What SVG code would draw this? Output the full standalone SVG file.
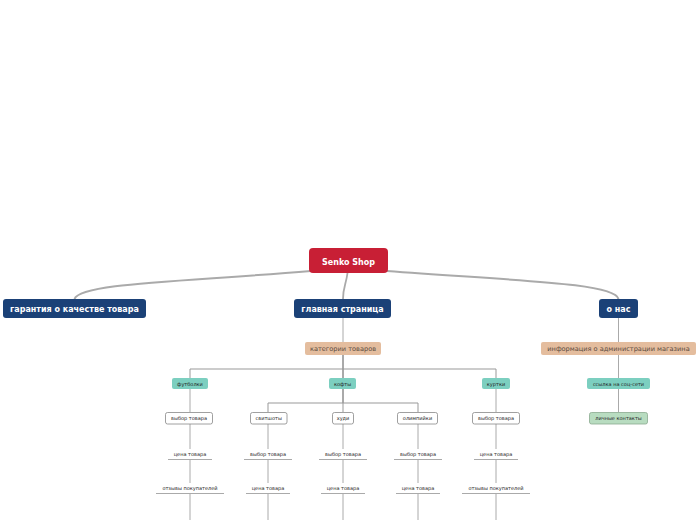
<svg xmlns="http://www.w3.org/2000/svg" width="696" height="520" viewBox="0 0 696 520">
<style>
text{font-family:"DejaVu Sans","Noto Sans",sans-serif;text-anchor:middle}
.t1{font-size:8px;font-weight:bold;fill:#fff}
.b1{fill:#1b4177}
.t2{font-size:6.6px;fill:#5a4a40}
.b2{fill:#e4bd9e}
.b3{fill:#7ccfc0}
.t3{font-size:5px;fill:#222}
.b4{fill:#fff;stroke:#888;stroke-width:0.8}
.b5{fill:#b8dcc0;stroke:#8aaa8f;stroke-width:0.8}
.ul{stroke:#aaa;stroke-width:1}
.c{stroke:#aaa;stroke-width:1;fill:none}
.cd{stroke:#555;stroke-width:1;fill:none}
.ch{stroke:#999;stroke-width:1;fill:none}
.cm{stroke:#aaa;fill:none}
</style>
<g id="connectors">
<path class="cm" stroke-width="2" d="M311,271 C180,282 80,283 74.5,299"/>
<path class="cm" stroke-width="2" d="M387,271 C520,281 615,283 618.5,299"/>
<path class="cm" stroke-width="1.8" d="M347.5,273 C346,285 343,287 343,299"/>
<path class="c" d="M343,318 V342"/>
<path class="cd" d="M343,355 V378"/>
<path class="ch" d="M190,369 H496 M190,369 V378 M496,369 V378"/>
<path class="cd" d="M343,389 V403"/>
<path class="ch" d="M268,403 H418 M268,403 V412 M418,403 V412 M343,403 V412"/>
<path class="c" d="M618.5,318 V342 M618.5,355 V378 M618.5,389 V412"/>
<path class="c" d="M190,389 V412 M496,389 V412"/>
<path class="c" d="M190,424 V449 M190,460 V483 M190,494 V520"/>
<path class="c" d="M268,424 V449 M268,460 V483 M268,494 V520"/>
<path class="c" d="M343,424 V449 M343,460 V483 M343,494 V520"/>
<path class="c" d="M418,424 V449 M418,460 V483 M418,494 V520"/>
<path class="c" d="M496,424 V449 M496,460 V483 M496,494 V520"/>
</g>
<g id="root"><rect x="309" y="248" width="79" height="25" rx="4" fill="#c81f35"/><text x="348.5" y="264.5" class="t1" font-size="9.5">Senko Shop</text></g>
<g id="n-guarantee"><rect class="b1" x="3" y="299" width="143" height="19" rx="3"/><text class="t1" x="74.5" y="311.5">гарантия о качестве товара</text></g>
<g id="n-main"><rect class="b1" x="294" y="299" width="97" height="19" rx="3"/><text class="t1" x="342.5" y="311.5">главная страница</text></g>
<g id="n-about"><rect class="b1" x="599" y="299" width="39" height="19" rx="3"/><text class="t1" x="618.5" y="311.5">о нас</text></g>
<g id="n-categories"><rect class="b2" x="305" y="342" width="76" height="13" rx="2"/><text class="t2" x="343" y="351">категории товаров</text></g>
<g id="n-info"><rect class="b2" x="541" y="342" width="155" height="13" rx="2"/><text class="t2" x="618.5" y="351">информация о администрации магазина</text></g>
<g id="n-tshirts"><rect class="b3" x="172" y="378" width="36" height="11" rx="2"/><text class="t3" x="190" y="385.5">футболки</text></g>
<g id="n-sweaters"><rect class="b3" x="329" y="378" width="27" height="11" rx="2"/><text class="t3" x="342.5" y="385.5">кофты</text></g>
<g id="n-jackets"><rect class="b3" x="482" y="378" width="28" height="11" rx="2"/><text class="t3" x="496" y="385.5">куртки</text></g>
<g id="n-social"><rect class="b3" x="587" y="378" width="63" height="11" rx="2"/><text class="t3" x="618.5" y="385.5">ссылка на соц-сети</text></g>
<g id="n-contacts"><rect class="b5" x="589.5" y="412.5" width="58" height="11.5" rx="2"/><text class="t3" x="618.5" y="420">личные контакты</text></g>
<g id="n-ts-choice"><rect class="b4" x="165.5" y="412.5" width="47" height="11.5" rx="2"/><text class="t3" x="189" y="420">выбор товара</text></g>
<g id="n-sweatshirts"><rect class="b4" x="250.5" y="412.5" width="36.5" height="11.5" rx="2"/><text class="t3" x="268.7" y="420">свитшоты</text></g>
<g id="n-hoodie"><rect class="b4" x="332.5" y="412.5" width="21" height="11.5" rx="2"/><text class="t3" x="343" y="420">худи</text></g>
<g id="n-olympic"><rect class="b4" x="397.5" y="412.5" width="40" height="11.5" rx="2"/><text class="t3" x="417.5" y="420">олимпийки</text></g>
<g id="n-jk-choice"><rect class="b4" x="472.5" y="412.5" width="47" height="11.5" rx="2"/><text class="t3" x="496" y="420">выбор товара</text></g>
<g id="n-ts-price"><text class="t3" x="190" y="456">цена товара</text><path class="ul" d="M168,459.5 H212"/></g>
<g id="n-ts-reviews"><text class="t3" x="190" y="490">отзывы покупателей</text><path class="ul" d="M156,493.5 H224"/></g>
<g id="n-sw-choice"><text class="t3" x="268" y="456">выбор товара</text><path class="ul" d="M244,459.5 H292"/></g>
<g id="n-sw-price"><text class="t3" x="268" y="490">цена товара</text><path class="ul" d="M246,493.5 H290"/></g>
<g id="n-hd-choice"><text class="t3" x="343" y="456">выбор товара</text><path class="ul" d="M319,459.5 H367"/></g>
<g id="n-hd-price"><text class="t3" x="343" y="490">цена товара</text><path class="ul" d="M321,493.5 H365"/></g>
<g id="n-ol-choice"><text class="t3" x="418" y="456">выбор товара</text><path class="ul" d="M394,459.5 H442"/></g>
<g id="n-ol-price"><text class="t3" x="418" y="490">цена товара</text><path class="ul" d="M396,493.5 H440"/></g>
<g id="n-jk-price"><text class="t3" x="496" y="456">цена товара</text><path class="ul" d="M474,459.5 H518"/></g>
<g id="n-jk-reviews"><text class="t3" x="496" y="490">отзывы покупателей</text><path class="ul" d="M462,493.5 H530"/></g>
</svg>
